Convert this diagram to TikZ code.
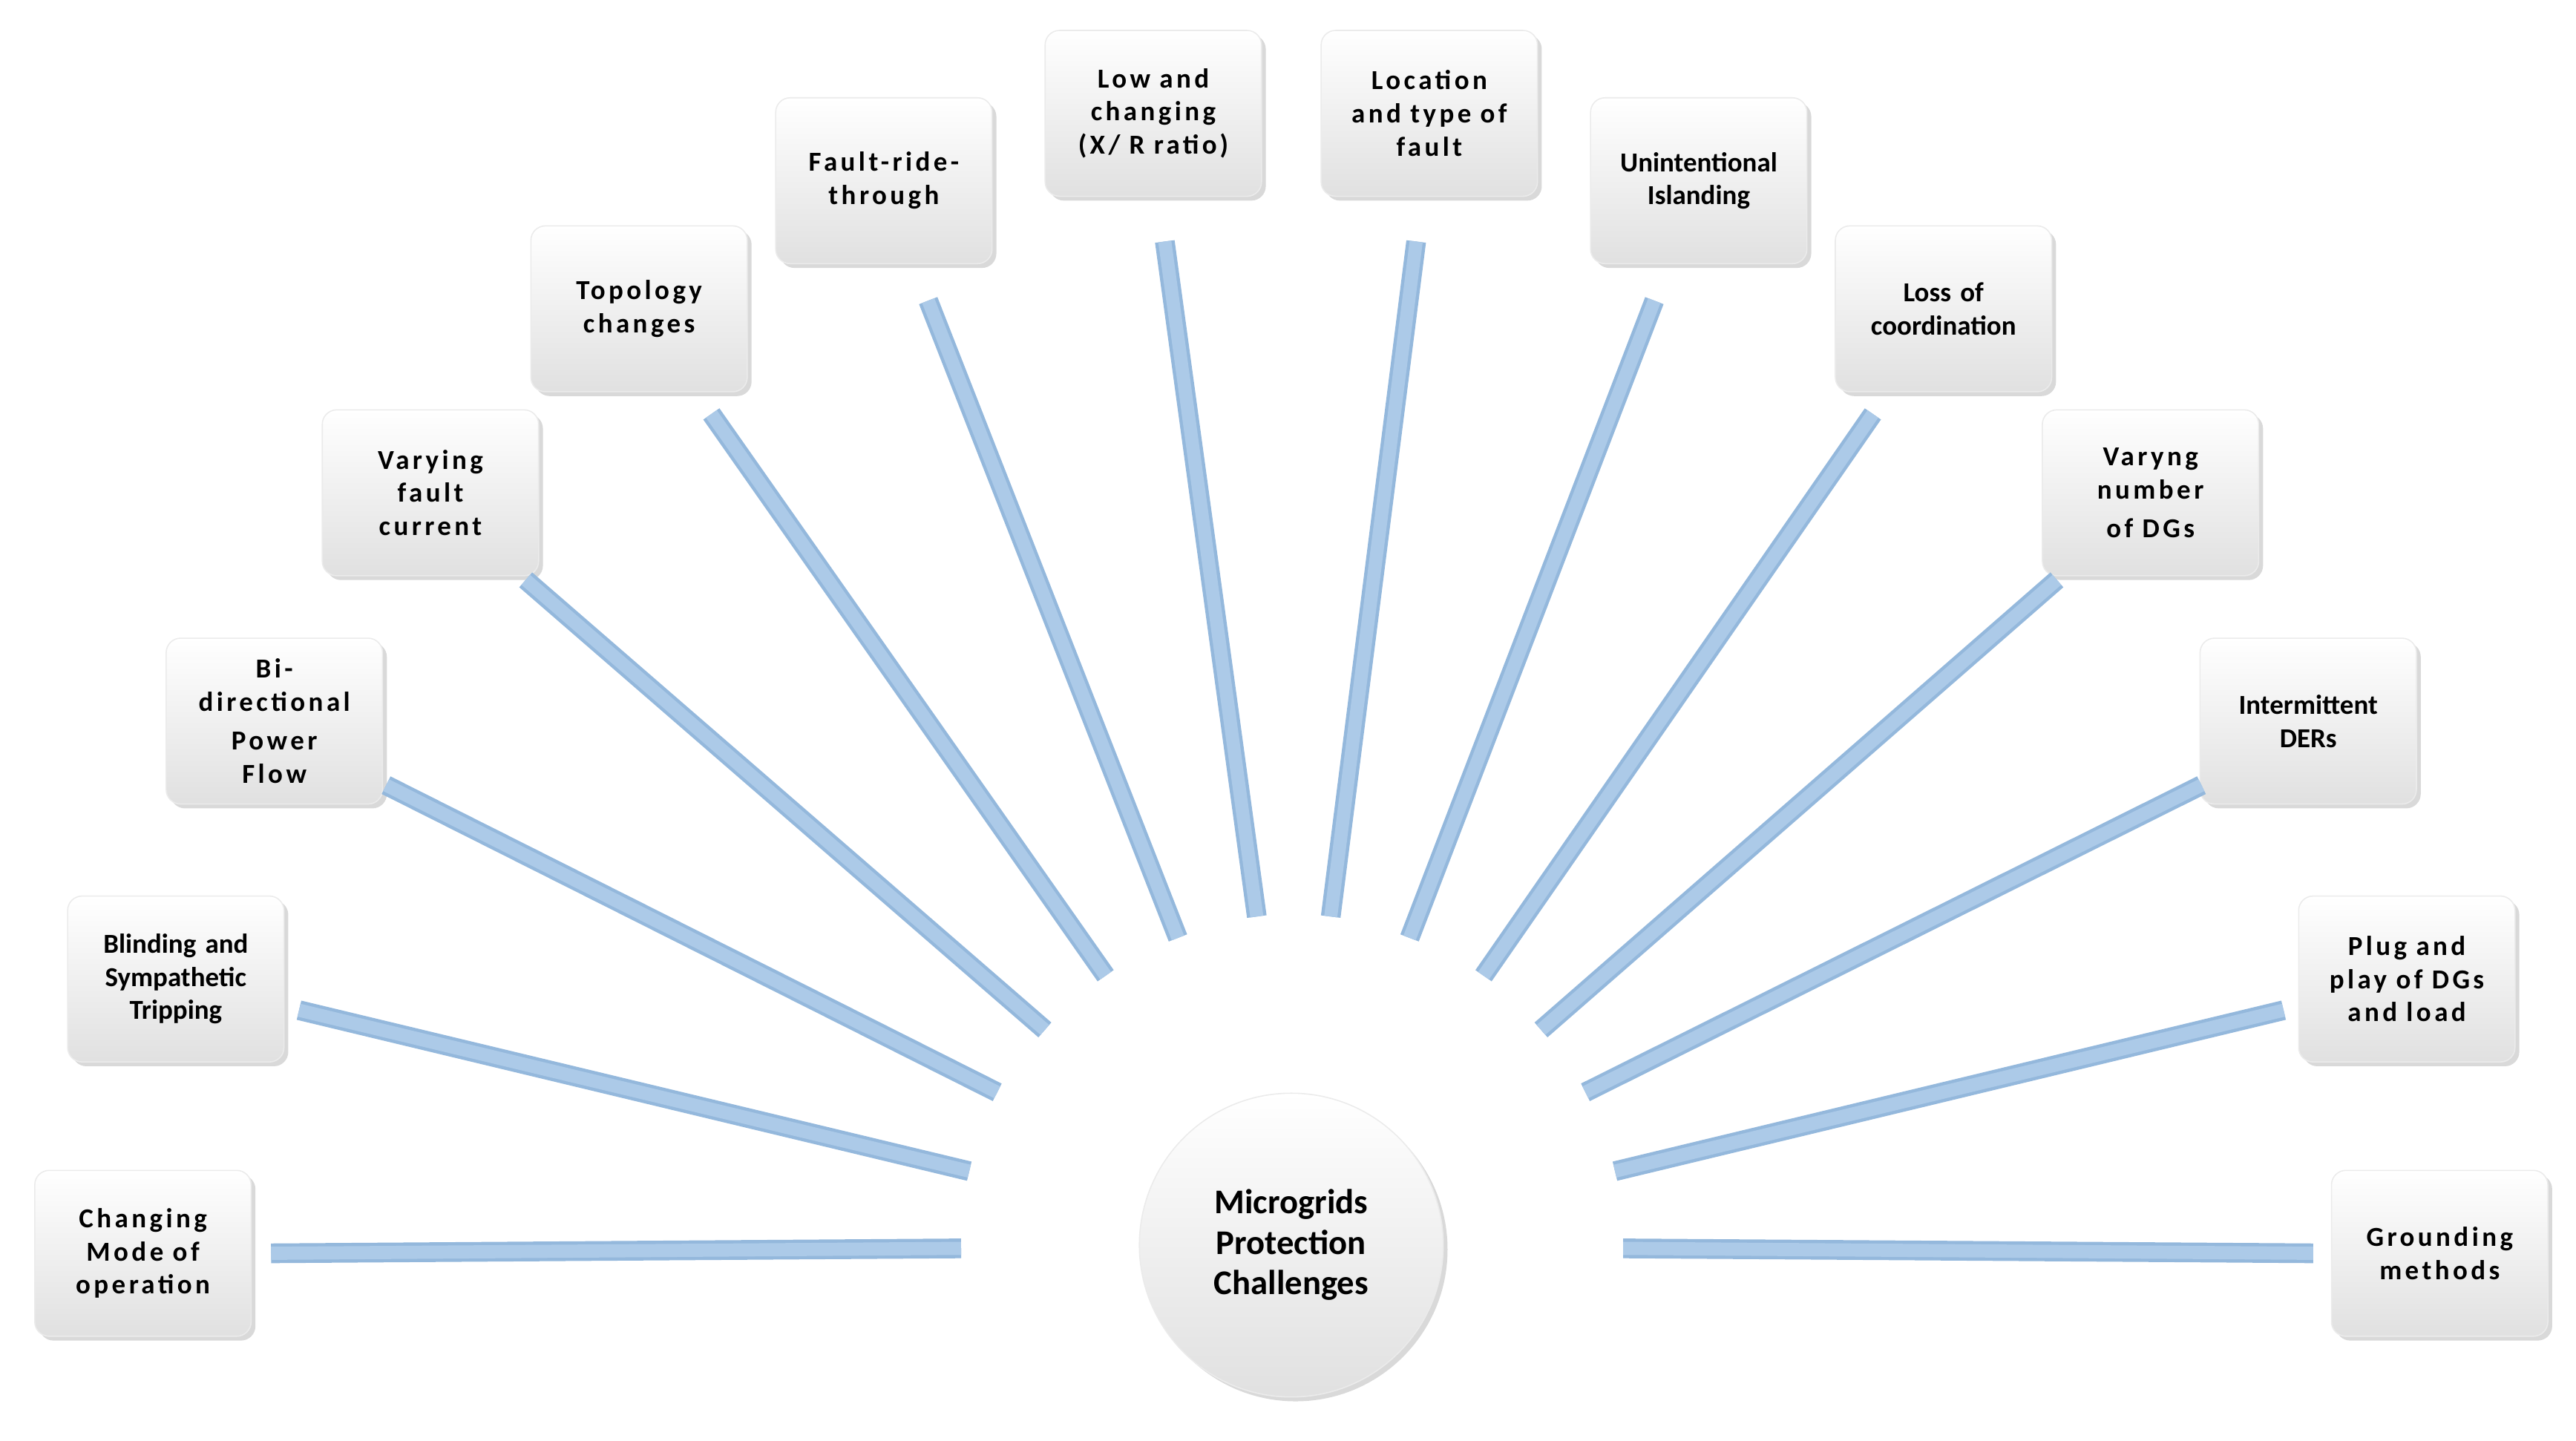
\documentclass[tikz,border=0pt]{standalone}
\usepackage{fontspec}
\setmainfont{Carlito}
\newfontfamily\spc{Carlito}[LetterSpace=12]
\usetikzlibrary{shadows}
\begin{document}
\begin{tikzpicture}[x=0.02cm,y=-0.02cm,
 box/.style={rounded corners=5pt,minimum width=2.55cm,minimum height=2.02cm,text width=2.4cm,align=center,
   top color=white,bottom color=black!12,draw=black!8,drop shadow={opacity=0.3,shadow xshift=1.5pt,shadow yshift=-1.5pt},
   font=\bfseries\fontsize{9.5}{11.5}\selectfont},
 sbox/.style={box,font=\spc\bfseries\fontsize{9.5}{11.5}\selectfont},
 band/.style={line width=0.24cm,draw={rgb,255:red,148;green,184;blue,220}},
 bandin/.style={line width=0.16cm,draw={rgb,255:red,172;green,202;blue,232}}]
\useasboundingbox (0,0) rectangle (1568,877);
\node[sbox] (b1) at (87,763) {Changing\\Mode of\\operation};
\node[box] (b2) at (107,596) {Blinding and\\Sympathetic\\Tripping};
\node[sbox] (b3) at (167,439) {Bi-\\directional\\[2pt]Power\\Flow};
\node[sbox] (b4) at (262,300) {Varying\\fault\\current};
\node[sbox] (b5) at (389,188) {Topology\\changes};
\node[sbox] (b6) at (538,110) {Fault-ride-\\through};
\node[sbox] (b7) at (702,69) {Low and\\changing\\(X/ R ratio)};
\node[sbox] (b8) at (870,69) {Location\\and type of\\fault};
\node[box] (b9) at (1034,110) {Unintentional\\Islanding};
\node[box] (b10) at (1183,188) {Loss of\\coordination};
\node[sbox] (b11) at (1309,300) {Varyng\\number\\[2pt]of DGs};
\node[box] (b12) at (1405,439) {Intermittent\\DERs};
\node[sbox] (b13) at (1465,596) {Plug and\\play of DGs\\and load};
\node[sbox] (b14) at (1485,763) {Grounding\\methods};
\node[circle,minimum size=3.7cm,top color=white,bottom color=black!12,draw=black!8,
  drop shadow={opacity=0.3,shadow xshift=1.5pt,shadow yshift=-1.5pt},align=center,
  font=\bfseries\fontsize{12}{14}\selectfont] (c) at (786,758) {Microgrids\\Protection\\Challenges};
\foreach \i/\ax/\ay/\bx/\by in {1/165/763/585/760,2/182/615/590/713,3/235/478/607/665,4/320/353/636/627,
 5/433/252/673/594,6/565/183/717/571,7/709/147/765/558,8/862/147/810/558,9/1007/183/858/571,
 10/1140/252/903/594,11/1252/353/938/627,12/1340/478/965/665,13/1390/615/983/713,14/988/760/1408/763}{
 \coordinate (s\i) at (\ax,\ay); \coordinate (e\i) at (\bx,\by);
 \draw[band] (s\i) -- (e\i);
 \draw[bandin] (s\i) -- (e\i);
}
\end{tikzpicture}
\end{document}
